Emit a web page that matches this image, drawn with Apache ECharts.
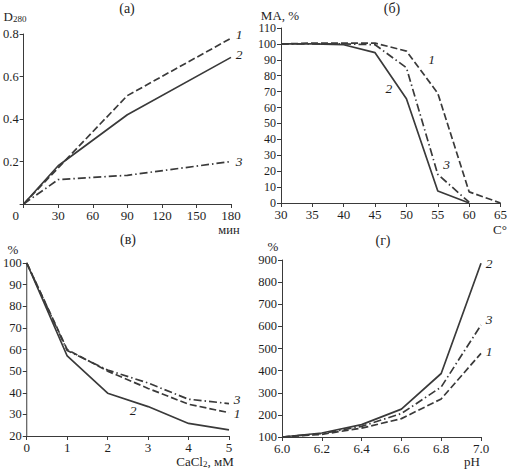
<!DOCTYPE html>
<html>
<head>
<meta charset="utf-8">
<script src="https://cdn.jsdelivr.net/npm/echarts@6/dist/echarts.min.js"></script>
<style>
  html, body { margin: 0; padding: 0; background: #fff; }
  #chart { width: 510px; height: 470px; }
</style>
</head>
<body>
<div id="chart"></div>
<script>
(function() {
  var ink = '#3a3a3a';
  var txt = '#1e1e1e';
  var font = '"Liberation Serif", "DejaVu Serif", serif';

  // (а) D280 vs time
  var timeMin = [0, 30, 90, 180];
  var d280_1 = [0, 0.17, 0.51, 0.78];
  var d280_2 = [0, 0.18, 0.42, 0.69];
  var d280_3 = [0, 0.115, 0.135, 0.2];

  // (б) activity vs temperature
  var tempC = [30, 35, 40, 45, 50, 55, 60, 65];
  var ma_1 = [100, 100.5, 100.5, 100.5, 95.5, 69, 7, 0];
  var ma_2 = [100, 100, 99.5, 94.5, 65.5, 7.5, 0];
  var ma_3 = [100, 100, 100, 99.5, 85, 18, 0.5];

  // (в) vs CaCl2
  var cacl2 = [0, 1, 2, 3, 4, 5];
  var ca_1 = [100, 60, 50, 42, 34.7, 30.8];
  var ca_2 = [100, 57, 39.8, 33.6, 25.8, 22.8];
  var ca_3 = [100, 59.5, 50.5, 44.5, 37, 35];

  // (г) vs pH
  var ph = [6.0, 6.2, 6.4, 6.6, 6.8, 7.0];
  var ph_1 = [100, 112, 140, 183, 272, 478];
  var ph_2 = [100, 118, 156, 226, 387, 885];
  var ph_3 = [100, 115, 148, 206, 326, 606];

  // curve number labels: text, x, y (data coords), pixel nudge
  var labA = [['1', 180, 0.78, 8, -4], ['2', 180, 0.69, 8, -3], ['3', 180, 0.2, 8, 0]];
  var labB = [['1', 54, 90, 0, 0], ['2', 47.2, 72, 0, 0], ['3', 56.4, 24.5, 0, 0]];
  var labC = [['1', 5, 30.8, 8, 1], ['2', 2.63, 31.6, 0, 0], ['3', 5, 35, 8, -4]];
  var labD = [['1', 7.0, 478, 8, -2], ['2', 7.0, 885, 8, 0], ['3', 7.0, 606, 8, -6]];

  var dashed = [7, 3];
  var dashDot = [8, 3, 1.5, 3];

  function pairs(xs, ys) {
    return ys.map(function(y, i) { return [xs[i], y]; });
  }

  function xAx(gi, min, max, step, fmt) {
    return {
      type: 'value', gridIndex: gi, min: min, max: max, interval: step,
      axisLine: { lineStyle: { color: ink, width: 1 } },
      axisTick: { length: 4, lineStyle: { color: ink } },
      splitLine: { show: false },
      axisLabel: { color: txt, fontFamily: font, fontSize: 13, margin: 5, formatter: fmt,
        rich: { z: { color: txt, fontFamily: font, fontSize: 13, padding: [0, 16, 0, 0] } } }
    };
  }

  function yAx(gi, min, max, step, fmt, size) {
    return {
      type: 'value', gridIndex: gi, min: min, max: max, interval: step,
      axisLine: { show: true, lineStyle: { color: ink, width: 1 } },
      axisTick: { show: true, length: 4, lineStyle: { color: ink } },
      splitLine: { show: false },
      axisLabel: { color: txt, fontFamily: font, fontSize: size || 13, margin: 5, formatter: fmt }
    };
  }

  function line(gi, data, dash, lab) {
    var s = {
      type: 'line', xAxisIndex: gi, yAxisIndex: gi, data: data,
      symbol: 'none', clip: false, silent: true,
      lineStyle: { color: ink, width: 1.7, type: dash }
    };
    if (lab) {
      s.markPoint = {
        symbol: 'circle', symbolSize: 1, silent: true,
        itemStyle: { color: 'rgba(0,0,0,0)' },
        label: { show: true, position: 'inside', color: txt, fontFamily: font,
          fontStyle: 'italic', fontSize: 13.5, formatter: '{b}', offset: [lab[3], lab[4]] },
        data: [{ name: lab[0], coord: [lab[1], lab[2]] }]
      };
    }
    return s;
  }

  function t(text, x, y, size, extra) {
    var st = { text: text, fill: txt, font: (size || 13) + 'px ' + font,
      align: 'center', verticalAlign: 'middle' };
    if (extra) { for (var k in extra) st[k] = extra[k]; }
    return { type: 'text', x: x, y: y, style: st, silent: true };
  }

  var chart = echarts.init(document.getElementById('chart'), null, { renderer: 'svg' });
  chart.setOption({
    animation: false,
    textStyle: { fontFamily: font },
    grid: [
      { left: 22, top: 34, width: 209, height: 170 },
      { left: 281, top: 28, width: 222, height: 175 },
      { left: 22, top: 263, width: 207, height: 173 },
      { left: 282, top: 260, width: 199, height: 177 }
    ],
    xAxis: [
      xAx(0, 0, 180, 30, function(v) { return v === 0 ? '{z|0}' : String(v); }),
      xAx(1, 30, 65, 5),
      xAx(2, 0, 5, 1),
      xAx(3, 6.0, 7.0, 0.2, function(v) { return v.toFixed(1); })
    ],
    yAxis: [
      yAx(0, 0, 0.8, 0.2, function(v) { return v === 0 ? '' : v.toFixed(1); }, 12.5),
      yAx(1, 0, 110, 10, null, 12),
      yAx(2, 20, 100, 10, null, 12.5),
      yAx(3, 100, 900, 100, null, 12.5)
    ],
    series: [
      line(0, pairs(timeMin, d280_1), dashed, labA[0]),
      line(0, pairs(timeMin, d280_2), 'solid', labA[1]),
      line(0, pairs(timeMin, d280_3), dashDot, labA[2]),
      line(1, pairs(tempC, ma_1), dashed, labB[0]),
      line(1, pairs(tempC, ma_2), 'solid', labB[1]),
      line(1, pairs(tempC, ma_3), dashDot, labB[2]),
      line(2, pairs(cacl2, ca_1), dashed, labC[0]),
      line(2, pairs(cacl2, ca_2), 'solid', labC[1]),
      line(2, pairs(cacl2, ca_3), dashDot, labC[2]),
      line(3, pairs(ph, ph_1), dashed, labD[0]),
      line(3, pairs(ph, ph_2), 'solid', labD[1]),
      line(3, pairs(ph, ph_3), dashDot, labD[2])
    ],
    graphic: [
      t('(а)', 127, 8, 14),
      t('(б)', 392, 8, 14),
      t('(в)', 128, 239, 14),
      t('(г)', 383, 240, 14),
      t('{d|D}{s|280}', 15, 16, 13, { rich: {
        d: { fontFamily: font, fontSize: 13, fill: txt },
        s: { fontFamily: font, fontSize: 9, fill: txt, padding: [6, 0, 0, 0] }
      } }),
      t('МА, %', 280, 15, 13),
      t('%', 13, 249, 13),
      t('%', 273, 246, 13),
      t('мин', 229, 230, 12.5),
      t('C°', 500, 229, 13),
      t('{n|CaCl}{s|2}{n|, мМ}', 205, 461, 13, { rich: {
        n: { fontFamily: font, fontSize: 13, fill: txt },
        s: { fontFamily: font, fontSize: 9, fill: txt, padding: [6, 0, 0, 0] }
      } }),
      t('pH', 472, 461, 13)
    ]
  });
  window.addEventListener('resize', function() { chart.resize(); });
})();
</script>
</body>
</html>
